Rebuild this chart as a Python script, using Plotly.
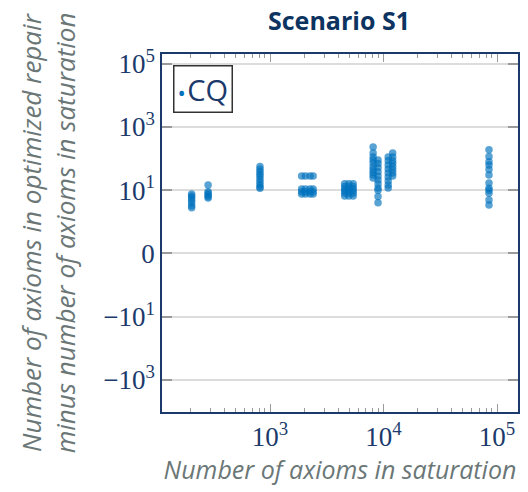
import numpy as np
import plotly.graph_objects as go

# ---- data: number of axioms in saturation (x) and difference (y) ----
cluster_a_x = [204]
cluster_a_y = [7.6, 6.6, 5.8, 4.8, 4.0, 3.2, 2.8]
cluster_b_x = [285]
cluster_b_y = [14.7, 9.0, 8.0, 7.1, 6.2, 5.7]
cluster_c_x = [816]
cluster_c_y = [56, 46, 38, 32, 27, 22, 18, 15, 12.5, 11.5]
cluster_d_x = [1900, 2050, 2250, 2400]
cluster_d_y = [28, 11, 9, 7.6]
cluster_e_x = [4550, 4950, 5400]
cluster_e_y = [16, 13, 11, 9.5, 8, 6.5]
cluster_f1_x = [8100]
cluster_f1_y = [234, 150, 113, 91, 73, 55, 44, 36, 30, 24.5]
cluster_f2_x = [8950]
cluster_f2_y = [91, 70, 52, 38, 28, 21, 16, 11.8, 10, 6.3, 4.0]
cluster_g1_x = [11000]
cluster_g1_y = [113, 85, 63, 47, 35, 26, 19.6, 14.7, 11.8]
cluster_g2_x = [12050]
cluster_g2_y = [151, 113, 85, 70, 55, 44, 35, 28]
cluster_h_x = [85000]
cluster_h_y = [190, 116, 80, 63, 45, 30, 17, 11.5, 10, 8, 4.9, 3.4]

series_name = "CQ"
y_tick_values = [1e5, 1e3, 10, 0, -10, -1e3]
y_tick_labels = ["10<sup>5</sup>", "10<sup>3</sup>", "10<sup>1</sup>", "0",
                 "\u221210<sup>1</sup>", "\u221210<sup>3</sup>"]
x_tick_values = [1e3, 1e4, 1e5]
x_tick_labels = ["10<sup>3</sup>", "10<sup>4</sup>", "10<sup>5</sup>"]

clusters = [
    (cluster_a_x, cluster_a_y), (cluster_b_x, cluster_b_y),
    (cluster_c_x, cluster_c_y), (cluster_d_x, cluster_d_y),
    (cluster_e_x, cluster_e_y), (cluster_f1_x, cluster_f1_y),
    (cluster_f2_x, cluster_f2_y), (cluster_g1_x, cluster_g1_y),
    (cluster_g2_x, cluster_g2_y), (cluster_h_x, cluster_h_y),
]


def symlog(v):
    v = np.asarray(v, dtype=float)
    a = np.abs(v)
    out = np.where(a >= 1, np.sign(v) * (1 + np.log10(np.maximum(a, 1e-12))), v)
    return out


xs, ys = [], []
for cx, cy in clusters:
    for x in cx:
        for y in cy:
            xs.append(x)
            ys.append(y)

NAVY = "#1b3a6b"
GRAY_T = "#6b7777"
TICK = "#9a9a9a"
BLUE = "rgb(0,114,189)"

fig = go.Figure()
fig.add_trace(go.Scatter(
    x=xs, y=symlog(ys), mode="markers", name=series_name, showlegend=False,
    marker=dict(color=BLUE, size=7.5, opacity=0.65, line=dict(width=0)),
))

# legend drawn as a boxed text annotation
fig.add_annotation(
    xref="paper", yref="paper", x=0.031, y=0.969, xanchor="left", yanchor="top",
    text=f"<span style='color:{BLUE};font-size:22px'>\u2022</span>"
         f"<span style='font-size:6px'> </span>{series_name}",
    showarrow=False, align="left",
    font=dict(family="Open Sans", size=29, color=NAVY),
    bordercolor="#333333", borderwidth=1.5, borderpad=3, bgcolor="white",
)

fig.update_layout(
    width=520, height=484,
    margin=dict(l=154, r=10, t=46, b=80),
    paper_bgcolor="white", plot_bgcolor="white",
    title=dict(text="<b>Scenario S1</b>", x=0.6365, xanchor="center", y=0.973,
               yanchor="middle",
               font=dict(family="Open Sans", size=25, color="#0d3360")),
    showlegend=False,
)

fig.update_xaxes(
    type="log", range=[2.0485, 5.185], automargin=False,
    tickmode="array", tickvals=x_tick_values, ticktext=x_tick_labels,
    tickfont=dict(family="Liberation Serif", size=27, color=NAVY),
    showgrid=False, zeroline=False,
    showline=True, linecolor=NAVY, linewidth=1.5, mirror="allticks",
    ticks="inside", ticklen=8, tickcolor=TICK, tickwidth=1,
    minor=dict(ticks="inside", ticklen=4, tickcolor=TICK, dtick="D1", showgrid=False),
    title=dict(text="<i>Number of axioms in saturation</i>",
               font=dict(family="Open Sans", size=25, color=GRAY_T), standoff=10),
)

fig.update_yaxes(
    range=[-5.02, 6.31], automargin=False,
    tickmode="array", tickvals=symlog(y_tick_values), ticktext=y_tick_labels,
    tickfont=dict(family="Liberation Serif", size=27, color=NAVY),
    showgrid=True, gridcolor="#dcdcdc", gridwidth=2, zeroline=False,
    showline=True, linecolor=NAVY, linewidth=1.5, mirror="allticks",
    ticks="inside", ticklen=10, tickcolor=TICK, tickwidth=1.5,
    title=dict(text="<i>Number of axioms in optimized repair<br>minus number of axioms in saturation</i>",
               font=dict(family="Open Sans", size=26, color=GRAY_T), standoff=20),
)

fig.write_html("out.html")
